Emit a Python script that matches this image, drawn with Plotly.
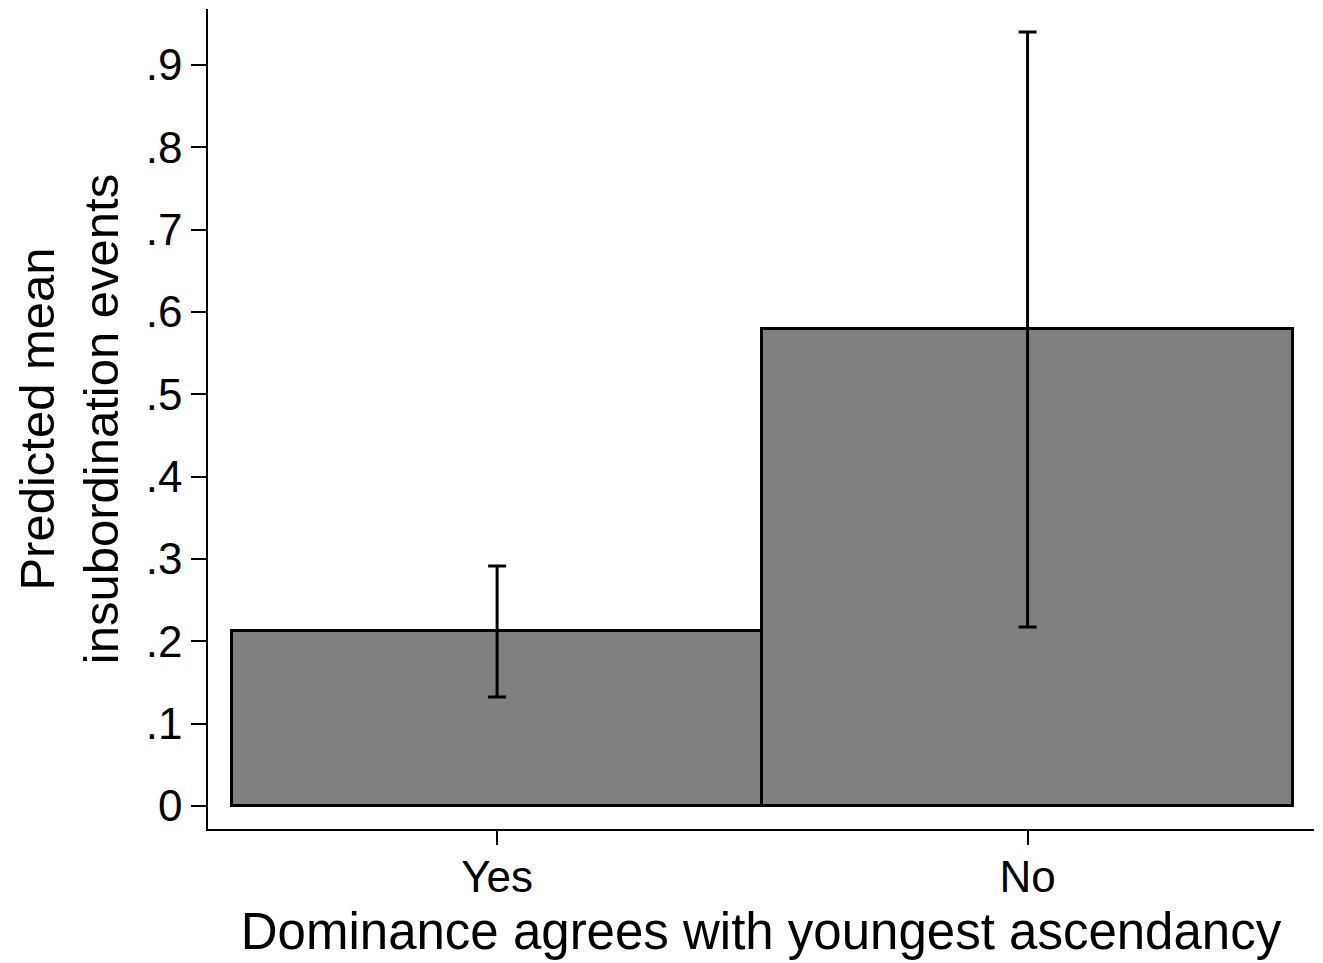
import plotly.graph_objects as go

categories = ["Yes", "No"]
positions = [0, 1]
means = [0.212, 0.579]
ci_upper = [0.2915, 0.940]
ci_lower = [0.1324, 0.2174]
y_tick_vals = [0, 0.1, 0.2, 0.3, 0.4, 0.5, 0.6, 0.7, 0.8, 0.9]
y_tick_text = ["0", ".1", ".2", ".3", ".4", ".5", ".6", ".7", ".8", ".9"]

err_plus = [u - m for u, m in zip(ci_upper, means)]
err_minus = [m - l for m, l in zip(means, ci_lower)]

FONT = "Liberation Sans, Arial, sans-serif"

fig = go.Figure()
fig.add_trace(go.Bar(
    x=positions,
    y=means,
    width=1,
    marker=dict(color="#808080", line=dict(color="black", width=3)),
    error_y=dict(type="data", symmetric=False, array=err_plus, arrayminus=err_minus,
                 color="black", thickness=3, width=9),
    showlegend=False,
    hoverinfo="skip",
))

fig.update_layout(
    width=1323, height=963,
    margin=dict(l=208, r=9, t=9, b=134),
    paper_bgcolor="white", plot_bgcolor="white",
    font=dict(family=FONT, color="black"),
    bargap=0,
)
fig.update_xaxes(
    range=[-0.545, 1.540],
    tickmode="array", tickvals=positions, ticktext=categories,
    ticks="outside", ticklen=14, tickwidth=1.5, tickcolor="black",
    tickfont=dict(size=44, family=FONT, color="black"),
    ticklabelstandoff=-6,
    showline=True, linecolor="black", linewidth=1.5,
    showgrid=False, zeroline=False,
    title=dict(text="Dominance agrees with youngest ascendancy",
               font=dict(size=51, family=FONT, color="black"), standoff=14),
)
fig.update_yaxes(
    range=[-0.028, 0.968],
    tickmode="array", tickvals=y_tick_vals, ticktext=y_tick_text,
    ticks="outside", ticklen=15, tickwidth=1.5, tickcolor="black",
    tickfont=dict(size=44, family=FONT, color="black"),
    showline=True, linecolor="black", linewidth=1.5,
    showgrid=False, zeroline=False,
    title=dict(text="Predicted mean<br>insubordination events",
               font=dict(size=49, family=FONT, color="black"), standoff=12),
)

fig.write_html("out.html")
